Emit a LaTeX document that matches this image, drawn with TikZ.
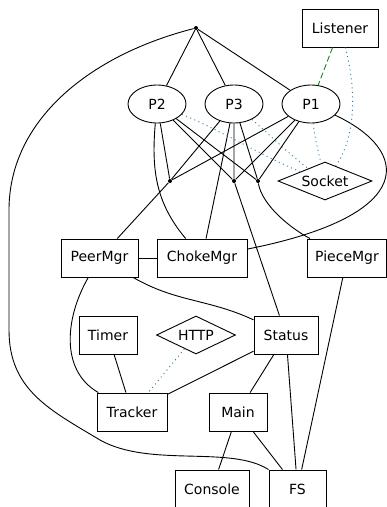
\documentclass[tikz,border=0pt]{standalone}
\usepackage{fontspec}
\setmainfont{DejaVu Sans}
\usetikzlibrary{shapes.geometric}
\definecolor{sockblue}{RGB}{35,125,165}
\definecolor{lisgreen}{RGB}{34,130,34}
\begin{document}
\begin{tikzpicture}[x=1pt,y=1pt,line width=0.9pt,
  every node/.style={font=\fontsize{14}{16}\selectfont,inner sep=0pt},
  box/.style={draw,rectangle,minimum height=38pt},
  proc/.style={draw,ellipse,minimum width=58pt,minimum height=38pt},
  port/.style={draw,diamond,minimum height=38pt,aspect=2.5},
  junc/.style={circle,fill,minimum size=4pt},
  sock/.style={sockblue,dash pattern=on 1pt off 3.5pt},
  lis/.style={lisgreen,dash pattern=on 6pt off 3pt}]
\fill[white] (0,0) rectangle (387,-507);
\useasboundingbox (0,0) rectangle (387,-507);
\node[junc] (top) at (196,-28) {};
\node[box,minimum width=76pt] (Listener) at (340,-28) {Listener};
\node[proc] (P2) at (157,-104) {P2};
\node[proc] (P3) at (234,-104) {P3};
\node[proc] (P1) at (311,-104) {P1};
\node[junc] (j1) at (170,-181) {};
\node[junc] (j2) at (234,-181) {};
\node[junc] (j3) at (258,-181) {};
\node[port,minimum width=94pt] (Socket) at (325,-181) {Socket};
\node[box,minimum width=77pt] (PeerMgr) at (99.5,-258) {PeerMgr};
\node[box,minimum width=90pt] (ChokeMgr) at (202,-258) {ChokeMgr};
\node[box,minimum width=79pt] (PieceMgr) at (347,-258) {PieceMgr};
\node[box,minimum width=58pt] (Timer) at (108,-335) {Timer};
\node[port,minimum width=79pt] (HTTP) at (196,-335) {HTTP};
\node[box,minimum width=64pt] (Status) at (286,-335) {Status};
\node[box,minimum width=70pt] (Tracker) at (132,-412) {Tracker};
\node[box,minimum width=58pt] (Main) at (238,-412) {Main};
\node[box,minimum width=74pt] (Console) at (212,-489) {Console};
\node[box,minimum width=57pt] (FS) at (297.5,-489) {FS};
\draw (top) -- (P2) (top) -- (P3.115) (top) -- (P1);
\draw (top) .. controls (90,-55) and (9,-120) .. (9,-210) -- (9,-330) .. controls (9,-390) and (50,-410) .. (100,-440) .. controls (150,-468) and (230,-445) .. (FS.north west);
\draw (P2) -- (j1) (P2) -- (j2) (P2) -- (j3);
\draw (P2) to[out=-95,in=130] (ChokeMgr);
\draw (P3) -- (j1) (P3) -- (j2) (P3) -- (j3) (P3) -- (ChokeMgr);
\draw (P1) -- (j1) (P1) -- (j2) (P1) -- (j3);
\draw (P1) .. controls (410,-150) and (420,-215) .. (ChokeMgr);
\draw (j1) -- (PeerMgr) (j2) -- (Status);
\draw (j3) .. controls (262,-205) and (290,-228) .. (PieceMgr);
\draw (PeerMgr) -- (ChokeMgr);
\draw (PeerMgr) to[out=-30,in=155] (Status);
\draw (PeerMgr) to[out=-120,in=150] (Tracker);
\draw (Timer) -- (Tracker) (Status) -- (Tracker) (Status) -- (Main) (Status) -- (FS) (PieceMgr) -- (FS) (Main) -- (FS) (Main) -- (Console);
\draw[lis] (Listener) -- (P1);
\draw[sock] (Listener) .. controls (358,-95) and (354,-140) .. (Socket);
\draw[sock] (P1) .. controls (315,-140) and (318,-150) .. (Socket);
\draw[sock] (P3) .. controls (270,-135) and (290,-155) .. (Socket);
\draw[sock] (P2) .. controls (220,-130) and (270,-160) .. (Socket);
\draw[sock] (HTTP.230) -- (Tracker.50);
\end{tikzpicture}
\end{document}
